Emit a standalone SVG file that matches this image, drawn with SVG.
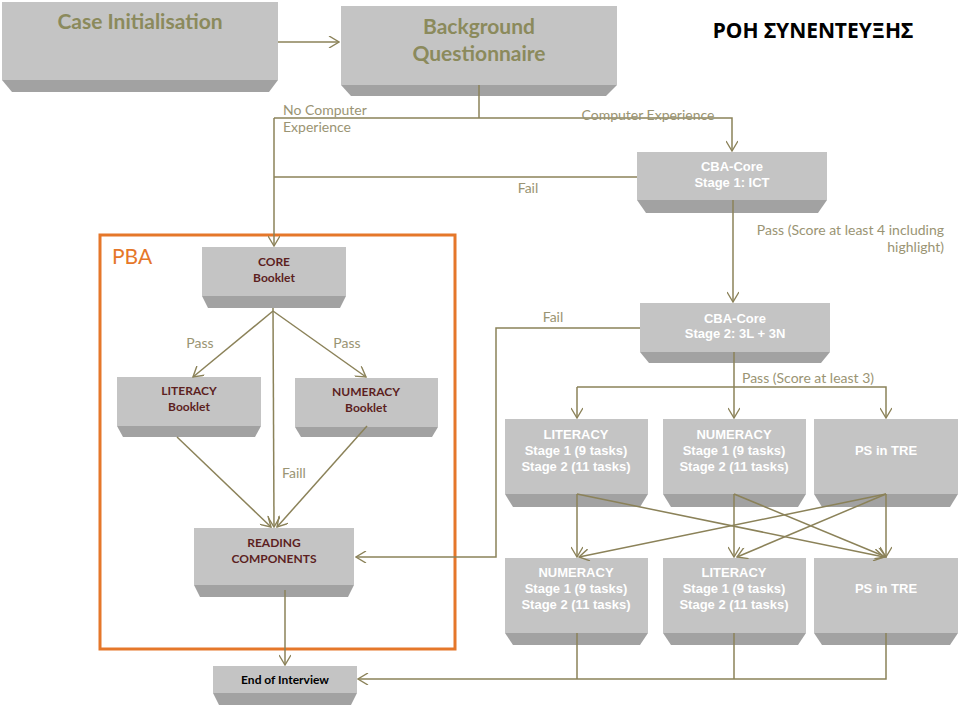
<svg xmlns="http://www.w3.org/2000/svg" width="960" height="707" viewBox="0 0 960 707">
<style>
.face{fill:#c4c4c4}
.base{fill:#a2a2a2}
.big{font-family:Lato,"Liberation Sans",sans-serif;font-weight:bold;font-size:21px;fill:#8b8a5c;text-anchor:middle}
.cba{font-family:"Liberation Sans",Arial,sans-serif;font-weight:bold;font-size:13px;fill:#ffffff;text-anchor:middle}
.pba{font-family:Lato,"Liberation Sans",sans-serif;font-weight:bold;font-size:12px;fill:#5c1f1f;text-anchor:middle}
.lbl{font-family:Lato,"Liberation Sans",sans-serif;font-size:14px;fill:#9a9473}
.con{stroke:#8b8259;stroke-width:1.5;fill:none}
</style>
<defs>
<marker id="arr" markerUnits="userSpaceOnUse" markerWidth="12" markerHeight="12" viewBox="0 0 10 12" refX="10" refY="6" orient="auto">
<path d="M0,0 L10,6 L0,12" fill="none" stroke="#8b8259" stroke-width="1.4"/>
</marker>
</defs>
<rect width="960" height="707" fill="#ffffff"/>

<text x="813" y="38" style="font-family:'Noto Sans','Open Sans',sans-serif;font-weight:bold;font-size:21px;fill:#000;text-anchor:middle">ΡΟΗ ΣΥΝΕΝΤΕΥΞΗΣ</text>

<rect x="100" y="235" width="355" height="414" fill="none" stroke="#e5772a" stroke-width="3"/>
<text x="112" y="264" style="font-family:Lato,'Liberation Sans',sans-serif;font-size:21px;fill:#e5772a">PBA</text>

<g id="case-initialisation">
<rect class="face" x="2" y="2" width="276" height="78"/>
<polygon class="base" points="2,80 278,80 269,92 12,92"/>
<text class="big" x="140" y="29">Case Initialisation</text>
</g>

<g id="background-questionnaire">
<rect class="face" x="341" y="6" width="276" height="79"/>
<polygon class="base" points="341,85 617,85 606,96 351,96"/>
<text class="big" x="479" y="34">Background</text>
<text class="big" x="479" y="61">Questionnaire</text>
</g>

<g id="cba-stage1">
<rect class="face" x="637" y="152" width="190" height="48"/>
<polygon class="base" points="637,200 827,200 818,213 646,213"/>
<text class="cba" x="732" y="171">CBA-Core</text>
<text class="cba" x="732" y="187">Stage 1: ICT</text>
</g>

<g id="cba-stage2">
<rect class="face" x="640" y="303" width="190" height="49"/>
<polygon class="base" points="640,352 830,352 821,363 649,363"/>
<text class="cba" x="735" y="323">CBA-Core</text>
<text class="cba" x="735" y="338">Stage 2: 3L + 3N</text>
</g>

<g id="literacy-a">
<rect class="face" x="505" y="419" width="143" height="75"/>
<polygon class="base" points="505,494 648,494 640,507 513,507"/>
<text class="cba" x="576" y="439">LITERACY</text>
<text class="cba" x="576" y="455">Stage 1 (9 tasks)</text>
<text class="cba" x="576" y="471">Stage 2 (11 tasks)</text>
</g>

<g id="numeracy-a">
<rect class="face" x="663" y="419" width="143" height="75"/>
<polygon class="base" points="663,494 806,494 798,507 671,507"/>
<text class="cba" x="734" y="439">NUMERACY</text>
<text class="cba" x="734" y="455">Stage 1 (9 tasks)</text>
<text class="cba" x="734" y="471">Stage 2 (11 tasks)</text>
</g>

<g id="ps-tre-a">
<rect class="face" x="814" y="419" width="144" height="75"/>
<polygon class="base" points="814,494 958,494 950,507 822,507"/>
<text class="cba" x="886" y="455">PS in TRE</text>
</g>

<g id="numeracy-b">
<rect class="face" x="505" y="558" width="143" height="75"/>
<polygon class="base" points="505,633 648,633 640,645 513,645"/>
<text class="cba" x="576" y="577">NUMERACY</text>
<text class="cba" x="576" y="593">Stage 1 (9 tasks)</text>
<text class="cba" x="576" y="609">Stage 2 (11 tasks)</text>
</g>

<g id="literacy-b">
<rect class="face" x="663" y="558" width="143" height="75"/>
<polygon class="base" points="663,633 806,633 798,645 671,645"/>
<text class="cba" x="734" y="577">LITERACY</text>
<text class="cba" x="734" y="593">Stage 1 (9 tasks)</text>
<text class="cba" x="734" y="609">Stage 2 (11 tasks)</text>
</g>

<g id="ps-tre-b">
<rect class="face" x="814" y="558" width="144" height="75"/>
<polygon class="base" points="814,633 958,633 950,645 822,645"/>
<text class="cba" x="886" y="593">PS in TRE</text>
</g>

<g id="core-booklet">
<rect class="face" x="202" y="247" width="144" height="49"/>
<polygon class="base" points="202,296 346,296 340,308 208,308"/>
<text class="pba" x="274" y="266">CORE</text>
<text class="pba" x="274" y="282">Booklet</text>
</g>

<g id="literacy-booklet">
<rect class="face" x="117" y="377" width="144" height="49"/>
<polygon class="base" points="117,426 261,426 255,437 123,437"/>
<text class="pba" x="189" y="395">LITERACY</text>
<text class="pba" x="189" y="411">Booklet</text>
</g>

<g id="numeracy-booklet">
<rect class="face" x="295" y="378" width="143" height="49"/>
<polygon class="base" points="295,427 438,427 432,437 301,437"/>
<text class="pba" x="366" y="396">NUMERACY</text>
<text class="pba" x="366" y="412">Booklet</text>
</g>

<g id="reading-components">
<rect class="face" x="194" y="528" width="160" height="57"/>
<polygon class="base" points="194,585 354,585 348,597 200,597"/>
<text class="pba" x="274" y="547">READING</text>
<text class="pba" x="274" y="563">COMPONENTS</text>
</g>

<g id="end-of-interview">
<rect class="face" x="213" y="666" width="144" height="27"/>
<polygon class="base" points="213,693 357,693 351,705 219,705"/>
<text class="pba" x="285" y="684" style="fill:#000">End of Interview</text>
</g>

<g id="connectors">
<path class="con" d="M278,42 H339" marker-end="url(#arr)"/>
<path class="con" d="M479,85 V118"/>
<path class="con" d="M274,118 H732 V151" marker-end="url(#arr)"/>
<path class="con" d="M274,118 V246" marker-end="url(#arr)"/>
<path class="con" d="M637,177 H274"/>
<path class="con" d="M733,200 V302" marker-end="url(#arr)"/>
<path class="con" d="M640,328 H496 V557 H356" marker-end="url(#arr)"/>
<path class="con" d="M734,352 V418" marker-end="url(#arr)"/>
<path class="con" d="M577,387 H886 V418" marker-end="url(#arr)"/>
<path class="con" d="M577,387 V418" marker-end="url(#arr)"/>
<path class="con" d="M577,494 V557" marker-end="url(#arr)"/>
<path class="con" d="M577,494 L884,557" marker-end="url(#arr)"/>
<path class="con" d="M734,494 V557" marker-end="url(#arr)"/>
<path class="con" d="M734,494 L886,557" marker-end="url(#arr)"/>
<path class="con" d="M886,494 V557" marker-end="url(#arr)"/>
<path class="con" d="M886,494 L579,557" marker-end="url(#arr)"/>
<path class="con" d="M886,494 L737,557" marker-end="url(#arr)"/>
<path class="con" d="M577,633 V679"/>
<path class="con" d="M734,633 V679"/>
<path class="con" d="M886,633 V679 H358" marker-end="url(#arr)"/>
<path class="con" d="M273,311 L193,377" marker-end="url(#arr)"/>
<path class="con" d="M273,311 L366,377" marker-end="url(#arr)"/>
<path class="con" d="M273,308 L274,527" marker-end="url(#arr)"/>
<path class="con" d="M177,437 L271,527" marker-end="url(#arr)"/>
<path class="con" d="M367,426 L277,527" marker-end="url(#arr)"/>
<path class="con" d="M285,590 V665" marker-end="url(#arr)"/>
</g>

<g id="labels">
<text class="lbl" x="283" y="115">No Computer</text>
<text class="lbl" x="283" y="132">Experience</text>
<text class="lbl" x="648" y="120" text-anchor="middle">Computer Experience</text>
<text class="lbl" x="528" y="193" text-anchor="middle">Fail</text>
<text class="lbl" x="944" y="235" text-anchor="end">Pass (Score at least 4 including</text>
<text class="lbl" x="944" y="252" text-anchor="end">highlight)</text>
<text class="lbl" x="553" y="322" text-anchor="middle">Fail</text>
<text class="lbl" x="808" y="383" text-anchor="middle">Pass (Score at least 3)</text>
<text class="lbl" x="200" y="348" text-anchor="middle">Pass</text>
<text class="lbl" x="347" y="348" text-anchor="middle">Pass</text>
<text class="lbl" x="294" y="478" text-anchor="middle">Faill</text>
</g>
</svg>
